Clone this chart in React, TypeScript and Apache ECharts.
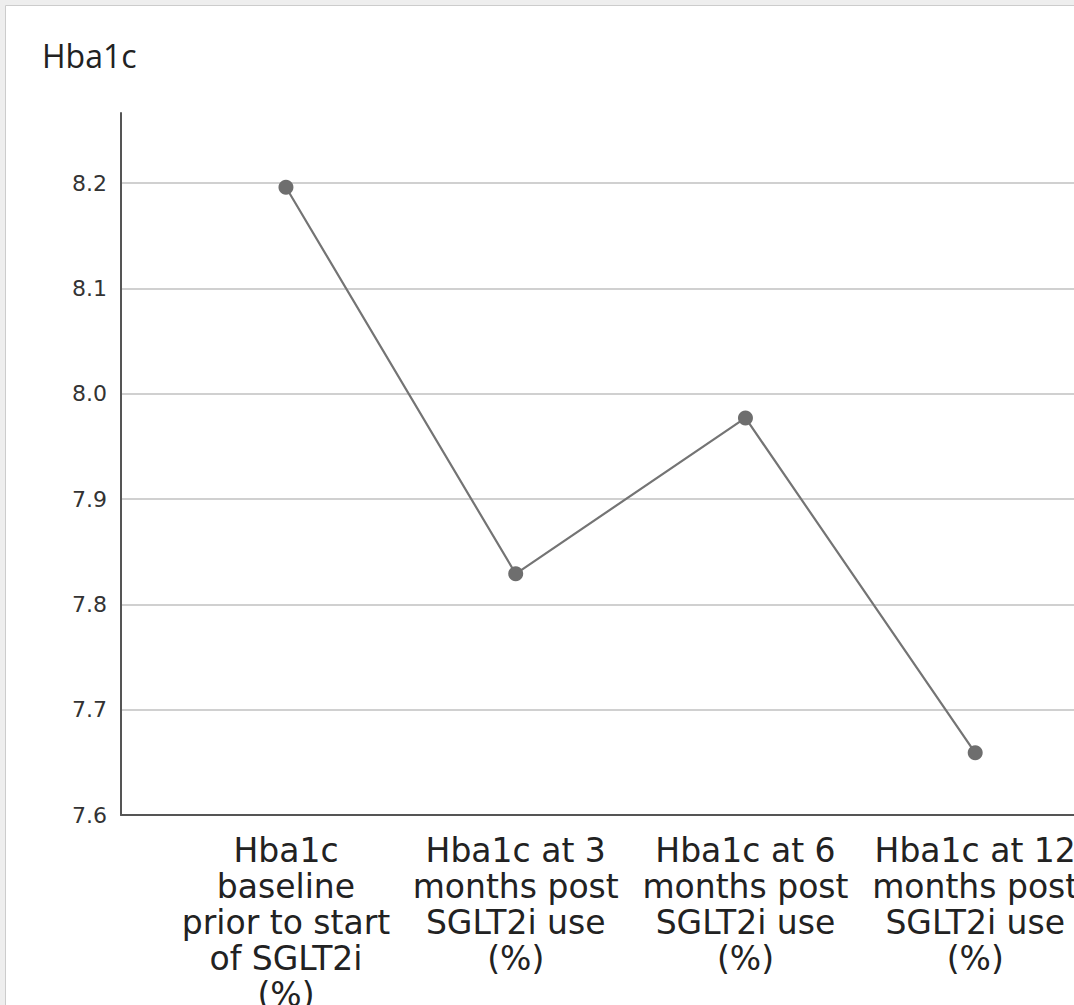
import React, { useEffect, useRef } from "react";
import * as echarts from "echarts";

const categories = [
  "Hba1c\nbaseline\nprior to start\nof SGLT2i\n(%)",
  "Hba1c at 3\nmonths post\nSGLT2i use\n(%)",
  "Hba1c at 6\nmonths post\nSGLT2i use\n(%)",
  "Hba1c at 12\nmonths post\nSGLT2i use\n(%)",
];
const values = [8.196, 7.829, 7.977, 7.659];
const yTicks = [7.6, 7.7, 7.8, 7.9, 8.0, 8.1, 8.2];
const yTickLabels = ["7.6", "7.7", "7.8", "7.9", "8.0", "8.1", "8.2"];
const xPositions = [0, 1, 2, 3];

export default function App() {
  const ref = useRef<HTMLDivElement>(null);
  useEffect(() => {
    if (!ref.current) return;
    const chart = echarts.init(ref.current, null, { renderer: "svg" });
    chart.setOption({
      animation: false,
      backgroundColor: "#eeeeee",
      graphic: [
        {
          type: "rect",
          left: 5,
          top: 5,
          shape: { width: 1200, height: 1200 },
          style: { fill: "#ffffff", stroke: "#cccccc", lineWidth: 1 },
          z: -10,
        },
        {
          type: "text",
          left: 42,
          top: 39,
          style: {
            text: "Hba1c",
            font: "32px 'Open Sans'",
            fill: "#222222",
          },
        },
      ],
      grid: {
        left: 121,
        top: 113,
        right: 0,
        bottom: 190,
        containLabel: false,
        outerBoundsMode: "none",
      },
      xAxis: {
        type: "value",
        min: -0.718,
        max: 3.43,
        axisLine: { show: true, onZero: false, lineStyle: { color: "#555555", width: 2 } },
        axisTick: { show: false, customValues: xPositions },
        splitLine: { show: false },
        axisLabel: {
          customValues: xPositions,
          formatter: (v: number) => categories[Math.round(v)] ?? "",
          fontFamily: "DejaVu Sans",
          fontSize: 33,
          lineHeight: 36,
          color: "#222222",
          margin: 17,
          align: "center",
          verticalAlign: "top",
        },
      },
      yAxis: {
        type: "value",
        min: 7.6,
        max: 8.2665,
        axisLine: { show: true, onZero: false, lineStyle: { color: "#555555", width: 2 } },
        axisTick: { show: false, customValues: yTicks },
        splitLine: { show: true, lineStyle: { color: "#d0d0d0", width: 2 } },
        axisLabel: {
          customValues: yTicks,
          formatter: (v: number) => yTickLabels[yTicks.findIndex((t) => Math.abs(t - v) < 1e-6)] ?? "",
          fontFamily: "DejaVu Sans",
          fontSize: 22,
          color: "#333333",
          margin: 14,
          padding: [6, 0, 0, 0],
        },
      },
      series: [
        {
          type: "line",
          data: values.map((v, i) => [xPositions[i], v]),
          symbol: "circle",
          symbolSize: 15,
          lineStyle: { color: "#747474", width: 2.2 },
          itemStyle: { color: "#6e6e6e" },
          z: 5,
        },
      ],
    });
    return () => chart.dispose();
  }, []);
  return (
    <div
      ref={ref}
      style={{ position: "absolute", left: 0, top: 0, width: 1074, height: 1005 }}
    />
  );
}
